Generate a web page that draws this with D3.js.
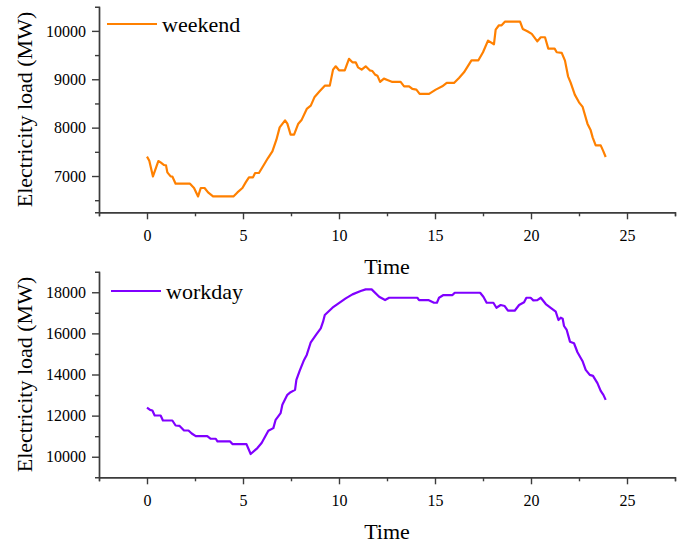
<!DOCTYPE html>
<html>
<head>
<meta charset="utf-8">
<script src="https://cdn.jsdelivr.net/npm/d3@7"></script>
<style>
    body { margin: 0; background: #fff; }
</style>
</head>
<body>
<div id="chart"></div>
<script>
'use strict';

const serif = '"Liberation Serif", "Times New Roman", Times, serif';

// Weekend series (hour, MW)
const weekendTime = [0, 0.12, 0.31, 0.59, 0.71, 0.89, 0.99, 1.06, 1.23, 1.32, 1.49, 2.24, 2.45, 2.66, 2.8, 3.0,
    3.18, 3.44, 4.5, 4.71, 4.97, 5.14, 5.31, 5.52, 5.63, 5.83, 6.09, 6.3, 6.53, 6.74, 6.91, 7.19, 7.31, 7.48,
    7.66, 7.88, 8.06, 8.32, 8.53, 8.73, 8.99, 9.26, 9.52, 9.69, 9.83, 10.0, 10.3, 10.52, 10.7, 10.87, 10.99,
    11.18, 11.39, 11.6, 11.74, 11.88, 12.0, 12.14, 12.34, 12.52, 12.78, 13.21, 13.39, 13.65, 13.82, 14.03,
    14.2, 14.69, 15.04, 15.38, 15.61, 15.99, 16.25, 16.51, 16.9, 17.26, 17.5, 17.76, 18.07, 18.16, 18.33,
    18.47, 18.65, 19.43, 19.57, 19.81, 20.04, 20.33, 20.51, 20.73, 20.9, 21.23, 21.34, 21.6, 21.77, 21.93,
    22.07, 22.28, 22.5, 22.69, 22.94, 23.11, 23.21, 23.37, 23.63, 23.77, 23.89];
const weekendLoad = [7400, 7317, 6992, 7310, 7282, 7227, 7220, 7075, 6992, 6990, 6841, 6841, 6752, 6578, 6752, 6752,
    6661, 6578, 6578, 6661, 6752, 6868, 6972, 6972, 7062, 7062, 7234, 7372, 7510, 7751, 8006, 8151, 8082, 7855,
    7855, 8082, 8165, 8386, 8455, 8635, 8750, 8868, 8868, 9199, 9268, 9185, 9185, 9421, 9351, 9351, 9247,
    9199, 9268, 9185, 9170, 9096, 9075, 8945, 9013, 8985, 8945, 8945, 8854, 8854, 8800, 8786,
    8697, 8697, 8786, 8854, 8924, 8924, 9028, 9144, 9392, 9392, 9558, 9800, 9723, 10027, 10116,
    10116, 10193, 10193, 10041, 9993, 9938, 9785, 9868, 9868, 9634, 9634, 9558, 9545, 9386, 9061,
    8924, 8682, 8523, 8428, 8082, 7944, 7799, 7633, 7633, 7509, 7393];

// Workday series (hour, MW)
const workdayTime = [0, 0.16, 0.28, 0.4, 0.71, 0.83, 1.32, 1.49, 1.7, 1.93, 2.16, 2.33, 2.54, 3.14, 3.32, 3.58,
    3.67, 4.33, 4.45, 5.18, 5.4, 5.75, 5.97, 6.32, 6.58, 6.7, 6.96, 7.05, 7.31, 7.48, 7.71, 7.78, 7.95, 8.18,
    8.32, 8.53, 8.82, 9.05, 9.17, 9.26, 9.66, 10.35, 10.7, 11.13, 11.39, 11.7, 12.09, 12.4, 12.61, 14.08,
    14.17, 14.65, 14.95, 15.1, 15.21, 15.44, 15.91, 16.03, 17.35, 17.52, 17.69, 18.04, 18.2, 18.42, 18.63,
    18.8, 19.15, 19.38, 19.64, 19.76, 19.98, 20.12, 20.33, 20.51, 20.77, 21.06, 21.29, 21.43, 21.55, 21.65,
    21.72, 21.86, 22.03, 22.24, 22.42, 22.68, 22.85, 23.06, 23.23, 23.46, 23.63, 23.77, 23.89];
const workdayLoad = [12393, 12282, 12250, 12005, 12005, 11763, 11763, 11520, 11500, 11277, 11277, 11131, 11003, 11003, 10874, 10874,
    10743, 10743, 10616, 10616, 10131, 10422, 10665, 11262, 11393, 11796, 12121, 12524, 13010, 13141, 13252, 13738, 14175, 14709,
    14951, 15568, 15956, 16248, 16568, 16893, 17248, 17704, 17898, 18058, 18141, 18141, 17782, 17621, 17733, 17733,
    17621, 17621, 17490, 17490, 17733, 17864, 17864, 17977, 17977, 17782, 17490, 17490, 17248, 17379, 17330,
    17102, 17102, 17379, 17510, 17733, 17733, 17607, 17621, 17733, 17427, 17218, 17053, 16650, 16762, 16714,
    16359, 16165, 15597, 15519, 15082, 14660, 14223, 13981, 13932, 13578, 13204, 13010, 12767];

// Axis tick labels
const timeTicks = [0, 5, 10, 15, 20, 25];
const weekendTicks = [7000, 8000, 9000, 10000];
const workdayTicks = [10000, 12000, 14000, 16000, 18000];

class LoadChart {

    constructor(_svg, _cfg) {
        this.svg = _svg;
        this.cfg = _cfg;

        this.initVis();
    }

    initVis() {
        // Get this vis
        const vis = this;
        const c = vis.cfg;

        vis.g = vis.svg.append('g')
            .attr('class', 'panel');

        // Scales
        vis.x = d3.scaleLinear()
            .domain([-2.5, 27.5])
            .range([99, 675]);
        vis.y = d3.scaleLinear()
            .domain(c.yDomain)
            .range([c.bottom, c.top]);

        // Minor ticks first (no labels)
        vis.g.append('g')
            .attr('class', 'xMinor')
            .attr('transform', `translate(0, ${c.bottom})`)
            .call(d3.axisBottom(vis.x).tickValues(d3.range(-2.5, 27.6, 5)).tickSize(4).tickFormat(''));
        vis.g.append('g')
            .attr('class', 'yMinor')
            .attr('transform', 'translate(99, 0)')
            .call(d3.axisLeft(vis.y).tickValues(c.yMinor).tickSize(4).tickFormat(''));

        // Major axes
        vis.g.append('g')
            .attr('class', 'xAxis')
            .attr('transform', `translate(0, ${c.bottom})`)
            .call(d3.axisBottom(vis.x).tickValues(timeTicks).tickSize(7).tickSizeOuter(0).tickPadding(10));
        vis.g.append('g')
            .attr('class', 'yAxis')
            .attr('transform', 'translate(99, 0)')
            .call(d3.axisLeft(vis.y).tickValues(c.yTicks).tickSize(7).tickSizeOuter(0).tickPadding(6)
                .tickFormat(d3.format('d')));

        vis.g.selectAll('.domain, .tick line')
            .attr('stroke', '#3c3c3c')
            .attr('stroke-width', 1.4);
        vis.g.selectAll('.xAxis, .yAxis, .xMinor, .yMinor')
            .attr('font-family', serif);
        vis.g.selectAll('.tick text')
            .style('font-family', serif)
            .style('font-size', '16px')
            .attr('fill', '#000');

        // Line
        const pts = c.time.map((t, i) => [t, c.load[i]]);
        vis.g.append('path')
            .datum(pts)
            .attr('fill', 'none')
            .attr('stroke', c.color)
            .attr('stroke-width', 2.2)
            .attr('stroke-linejoin', 'round')
            .attr('d', d3.line().x(d => vis.x(d[0])).y(d => vis.y(d[1])));

        // Titles
        vis.g.append('text')
            .attr('x', 387)
            .attr('y', c.bottom + 62)
            .attr('text-anchor', 'middle')
            .style('font-family', serif)
            .style('font-size', '22px')
            .text('Time');
        vis.g.append('text')
            .attr('transform', `translate(32, ${(c.top + c.bottom) / 2}) rotate(-90)`)
            .attr('text-anchor', 'middle')
            .style('font-family', serif)
            .style('font-size', '22px')
            .text('Electricity load (MW)');

        // Legend
        vis.g.append('line')
            .attr('x1', c.legendX)
            .attr('x2', c.legendX + 50)
            .attr('y1', c.legendY)
            .attr('y2', c.legendY)
            .attr('stroke', c.color)
            .attr('stroke-width', 2.2);
        vis.g.append('text')
            .attr('x', c.legendX + 55)
            .attr('y', c.legendY + 8)
            .style('font-family', serif)
            .style('font-size', '22px')
            .text(c.name);
    }
}

const svg = d3.select('#chart')
    .append('svg')
    .attr('width', 682)
    .attr('height', 545);

new LoadChart(svg, {
    name: 'weekend', color: '#ff8000', time: weekendTime, load: weekendLoad,
    yDomain: [6250, 10500], yTicks: weekendTicks, yMinor: [6500, 7500, 8500, 9500],
    top: 6.7, bottom: 212.3, legendX: 107, legendY: 24
});
new LoadChart(svg, {
    name: 'workday', color: '#8000ff', time: workdayTime, load: workdayLoad,
    yDomain: [9000, 19000], yTicks: workdayTicks, yMinor: [11000, 13000, 15000, 17000],
    top: 271.7, bottom: 477.3, legendX: 111, legendY: 291
});
</script>
</body>
</html>
